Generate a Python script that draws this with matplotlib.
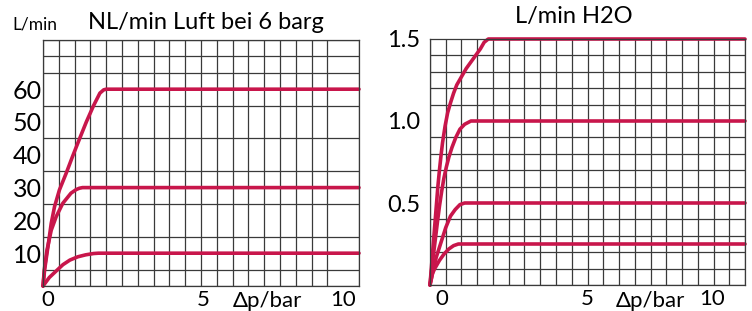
import numpy as np
import matplotlib
matplotlib.use("Agg")
import matplotlib.pyplot as plt

plt.rcParams['font.family'] = ['Lato', 'DejaVu Sans']

# air flow curves (NL/min vs bar)
air_x_60 = [0, 0.05, 0.155, 0.26, 0.365, 0.52, 0.73, 0.935, 1.14, 1.37, 1.6, 1.8, 1.92, 2.0, 10]
air_y_60 = [0, 4.9, 11.9, 19.1, 24.2, 29.3, 34.3, 39.5, 44.5, 50, 55, 58.8, 59.8, 60, 60]
air_x_30 = [0, 0.04, 0.125, 0.26, 0.415, 0.625, 0.885, 1.05, 1.15, 1.25, 10]
air_y_30 = [0, 4.9, 10.9, 17, 21.1, 25.2, 28.3, 29.4, 29.8, 30, 30]
air_x_10 = [0, 0.2, 0.42, 0.63, 0.85, 1.1, 1.35, 1.6, 1.75, 10]
air_y_10 = [0, 2.6, 4.6, 6.5, 7.9, 8.9, 9.5, 9.9, 10, 10]

# water flow curves (L/min vs bar)
h2o_x_15 = [0, 0.05, 0.1, 0.15, 0.2, 0.25, 0.3, 0.35, 0.4, 0.48, 0.56, 0.65, 0.75,
            0.85, 1.0, 1.15, 1.3, 1.45, 1.6, 1.72, 1.85, 10]
h2o_y_15 = [0, 0.12, 0.24, 0.36, 0.48, 0.6, 0.7, 0.79, 0.87, 0.97, 1.05, 1.11, 1.17,
            1.22, 1.27, 1.32, 1.36, 1.4, 1.44, 1.48, 1.5, 1.5]
h2o_x_10 = [0, 0.05, 0.1, 0.17, 0.24, 0.3, 0.37, 0.44, 0.52, 0.6, 0.7, 0.82, 0.95, 1.1, 1.3, 10]
h2o_y_10 = [0, 0.09, 0.17, 0.28, 0.39, 0.48, 0.57, 0.65, 0.72, 0.78, 0.84, 0.9, 0.95, 0.98, 1.0, 1.0]
h2o_x_05 = [0, 0.1, 0.2, 0.35, 0.5, 0.65, 0.8, 0.95, 1.1, 10]
h2o_y_05 = [0, 0.09, 0.17, 0.26, 0.35, 0.42, 0.46, 0.49, 0.5, 0.5]
h2o_x_025 = [0, 0.08, 0.15, 0.3, 0.45, 0.6, 0.75, 0.9, 10]
h2o_y_025 = [0, 0.07, 0.1, 0.15, 0.19, 0.22, 0.24, 0.25, 0.25]

air_yticks = [10, 20, 30, 40, 50, 60]
h2o_yticks = [0.5, 1.0, 1.5]
x_labels = ['0', '5', '10']
air_xlabel_pos = [0.16, 5.06, 9.5]
h2o_xlabel_pos = [0.38, 4.98, 8.95]

red = '#c8164b'
gridc = '#3a3a3a'

fig = plt.figure(figsize=(7.52, 3.11), dpi=100)
ax1 = fig.add_axes([0.0572, 0.0804, 0.4202, 0.791])
ax2 = fig.add_axes([0.5718, 0.0836, 0.4189, 0.791])


def setup(ax, ymax, ystep, yticks, yfmt, xpos, ypad, ysize):
    ax.set_xlim(0, 10)
    ax.set_ylim(0, ymax)
    ax.set_xticks(np.arange(0, 10.01, 0.5), minor=True)
    ax.set_yticks(np.arange(0, ymax + ystep / 2, ystep), minor=True)
    ax.grid(which='minor', color=gridc, lw=0.9)
    ax.set_xticks(xpos)
    ax.set_xticklabels(x_labels)
    ax.set_yticks(yticks)
    ax.set_yticklabels([yfmt.format(v) for v in yticks])
    ax.tick_params(which='both', length=0)
    ax.tick_params(axis='x', pad=3, labelsize=16)
    ax.tick_params(axis='y', pad=ypad, labelsize=ysize)
    for s in ax.spines.values():
        s.set_color(gridc)
        s.set_linewidth(0.9)
    ax.set_axisbelow(True)


setup(ax1, 75, 5, air_yticks, '{:d}', air_xlabel_pos, 1, 18)
setup(ax2, 1.5, 0.1, h2o_yticks, '{:.1f}', h2o_xlabel_pos, 7, 17)

for xs, ys in [(air_x_60, air_y_60), (air_x_30, air_y_30), (air_x_10, air_y_10)]:
    ax1.plot(xs, ys, color=red, lw=2.6, solid_capstyle='round',
             solid_joinstyle='round', clip_on=False)
for xs, ys in [(h2o_x_15, h2o_y_15), (h2o_x_10, h2o_y_10),
               (h2o_x_05, h2o_y_05), (h2o_x_025, h2o_y_025)]:
    ax2.plot(xs, ys, color=red, lw=2.6, solid_capstyle='round',
             solid_joinstyle='round', clip_on=False)

ax1.text(7.1, -0.063, 'Δp/bar', transform=ax1.get_xaxis_transform(),
         ha='center', va='center', fontsize=16)
ax2.text(7.0, -0.067, 'Δp/bar', transform=ax2.get_xaxis_transform(),
         ha='center', va='center', fontsize=16)

ax1.text(5.16, 1.073, 'NL/min Luft bei 6 barg', transform=ax1.get_xaxis_transform(),
         ha='center', va='center', fontsize=17)
ax2.text(4.57, 1.09, 'L/min H2O', transform=ax2.get_xaxis_transform(),
         ha='center', va='center', fontsize=17)
fig.text(35 / 752, 1 - 25 / 311, 'L/min', ha='center', va='center', fontsize=12.5)

plt.savefig('out.png', dpi=100)
